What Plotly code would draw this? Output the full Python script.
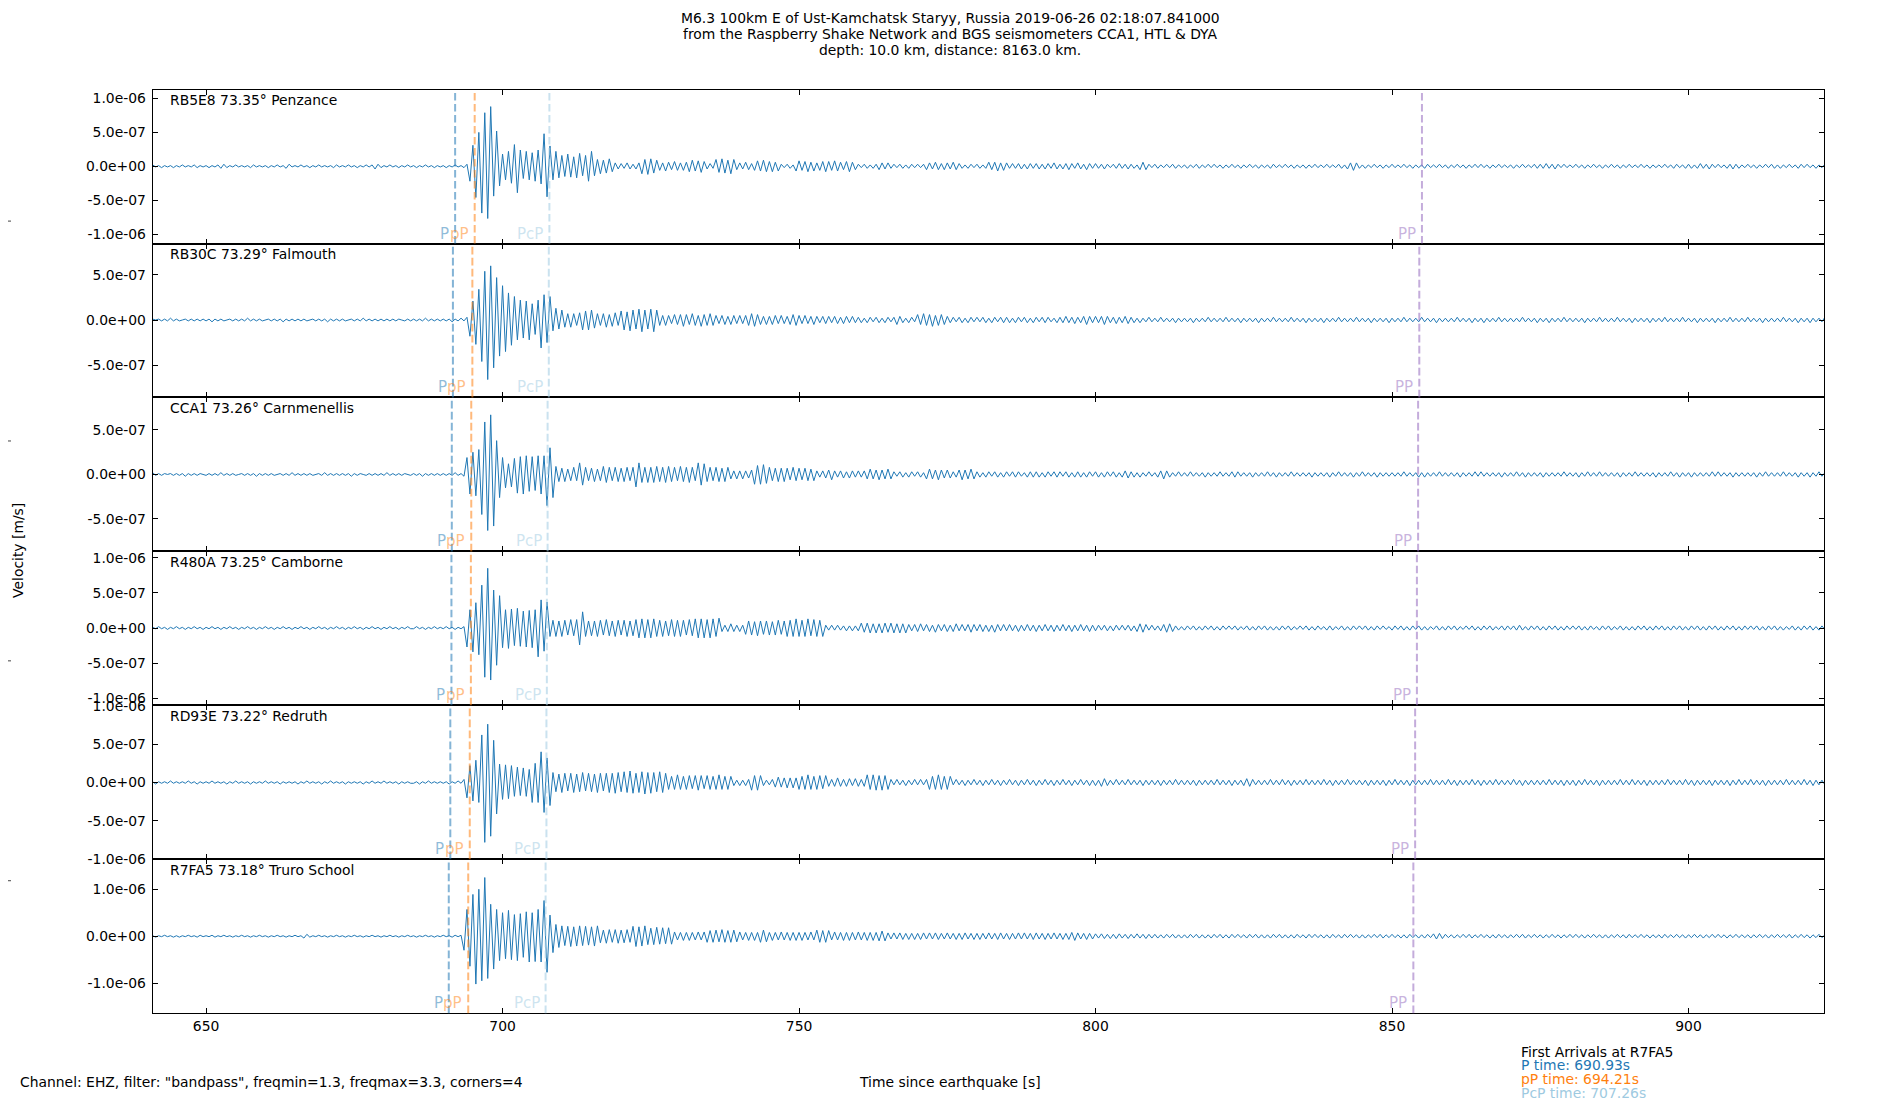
import numpy as np
import plotly.graph_objects as go

FONT = "DejaVu Sans"
FS = 13.9

title_lines = [
    "M6.3 100km E of Ust-Kamchatsk Staryy, Russia 2019-06-26 02:18:07.841000",
    "from the Raspberry Shake Network and BGS seismometers CCA1, HTL & DYA",
    "depth: 10.0 km, distance: 8163.0 km.",
]
stations = ["RB5E8", "RB30C", "CCA1", "R480A", "RD93E", "R7FA5"]
distances = [73.35, 73.29, 73.26, 73.25, 73.22, 73.18]
places = ["Penzance", "Falmouth", "Carnmenellis", "Camborne", "Redruth", "Truro School"]

phase_names = ["P", "pP", "PcP", "PP"]
phase_rgb = ["31,119,180", "255,127,14", "158,202,225", "148,103,189"]
P_times = [692.0, 691.63, 691.44, 691.38, 691.19, 690.93]
pP_times = [695.3, 694.91, 694.72, 694.66, 694.47, 694.21]
PcP_times = [707.9, 707.8, 707.6, 707.47, 707.4, 707.26]
PP_times = [855.05, 854.6, 854.4, 854.2, 853.9, 853.6]

y_limits = [(-1.14e-6, 1.13e-6), (-0.859e-6, 0.847e-6), (-0.865e-6, 0.865e-6),
            (-1.10e-6, 1.09e-6), (-1.0e-6, 1.006e-6), (-1.64e-6, 1.64e-6)]
y_ticks = [[-1e-6, -5e-7, 0, 5e-7, 1e-6], [-5e-7, 0, 5e-7], [-5e-7, 0, 5e-7],
           [-1e-6, -5e-7, 0, 5e-7, 1e-6], [-1e-6, -5e-7, 0, 5e-7, 1e-6], [-1e-6, 0, 1e-6]]
x_ticks = [650, 700, 750, 800, 850, 900]

# velocity traces in units of 1e-8 m/s, one sample every 0.5 s
# pre: from 640 s, main: from 690 s, post: from 800 s
rb5e8_pre = [
    1,-1,2,-1,1,-2,1,-1,1,-2, 1,-1,2,-1,1,-1,2,-2,1,-1, 1,-2,1,-1,2,-3,3,-2,1,-1,
    2,-1,1,-1,1,-2,2,-1,1,-1, 1,-2,1,-1,2,-1,1,-3,3,-1, 1,-1,2,-1,1,-2,1,-1,2,-1,
    1,-1,1,-2,2,-1,1,-1,2,-1, 1,-2,1,-1,2,-1,2,-4,3,-2, 1,-1,2,-1,1,-2,1,-1,2,-1,
    1,-2,1,-1,2,-1,1,-2,1,-1]
rb5e8_main = [
    1,-2,1,-1,2,-1,1,-2,3,-22, 31,-46,50,-69,79,-77,88,-44,52,-29,
    18,-20,22,-25,32,-39,24,-18,22,-20, 20,-22,24,-26,48,-45,30,-20,22,-17,
    16,-15,18,-16,14,-17,19,-14,16,-22, 22,-14,10,-11,9,-10,11,-8,5,-4,
    4,-3,5,-4,3,-4,5,-11,10,-12, 11,-10,9,-6,5,-7,6,-5,7,-6,
    5,-6,6,-8,9,-7,8,-9,7,-4, 4,-3,10,-9,11,-10,9,-11,10,-5,
    5,-4,6,-5,4,-6,8,-7,9,-8, 7,-8,6,-7,3,-2,3,-3,2,-7,
    8,-6,7,-8,6,-7,5,-6,7,-8, 7,-6,8,-7,6,-5,7,-8,6,-5,
    3,-2,3,-3,2,-3,3,-5,5,-4, 5,-3,3,-2,3,-3,2,-3,3,-2,
    3,-2,3,-5,5,-4,6,-5,4,-5, 5,-4,6,-5,4,-3,2,-3,3,-2,
    3,-3,2,-3,6,-5,6,-7,5,-6, 5,-3,4,-3,4,-4,3,-4,4,-3,
    4,-4,3,-4,4,-3,5,-4,3,-4, 4,-5,4,-3,5,-4,3,-5,4,-3]
rb5e8_post = [
    4,-3,3,-4,3,-2,3,-3,4,-3, 3,-4,3,-3,2,-5,6,-5,3,-2, 3,-3,2,-2,3,-2,3,-3,2,-2,
    2,-3,2,-2,3,-3,2,-2,3,-2, 3,-2,2,-3,2,-2,3,-2,2,-3, 2,-2,3,-2,2,-3,2,-2,2,-3,
    3,-2,2,-2,3,-2,2,-3,2,-2, 2,-3,2,-2,3,-2,2,-2,3,-2, 2,-2,3,-3,2,-4,5,-6,5,-3,
    2,-3,2,-2,3,-2,2,-3,2,-2, 3,-2,2,-2,3,-2,2,-3,2,-2, 2,-3,3,-2,2,-2,3,-2,2,-3,
    2,-2,3,-2,2,-3,2,-2,3,-2, 3,-2,2,-3,2,-2,3,-2,2,-2, 2,-3,2,-2,3,-2,2,-2,3,-3,
    3,-3,4,-3,3,-4,3,-2,3,-2, 2,-2,3,-2,2,-3,2,-2,3,-2, 2,-3,2,-2,3,-2,2,-3,2,-2,
    3,-2,2,-2,3,-2,2,-3,2,-2, 2,-2,3,-2,2,-3,3,-2,2,-3, 3,-3,2,-3,4,-3,3,-4,3,-2,
    3,-2,2,-3,3,-4,3,-3,2,-2, 3,-2,2,-3,2,-2,3,-2,3,-3, 2,-3,2,-2,3,-2,2,-3,3,-2,
    3,-2,2,-3,2,-2,3,-2,2,-3]

rb30c_pre = [
    1,-1,1,0,1,-1,1,-1,2,-1, 1,-1,0,1,-1,1,-1,1,-1,1, -1,1,-2,1,-1,1,-1,0,1,-1,
    1,-1,1,-1,2,-1,1,-1,1,-1, 0,1,-1,1,-1,1,-2,1,-1,1, -1,1,-1,1,-1,0,1,-1,1,-1,
    1,-2,1,-1,1,-1,1,-1,0,1, -1,1,-1,2,-1,1,-1,1,-1,1, -1,1,-1,1,-1,1,0,-1,1,-1,
    1,-1,1,-1,2,-1,1,-1,1,-1]
rb30c_main = [
    1,-1,1,-2,1,-1,2,-1,3,-18, 21,-27,34,-46,54,-66,60,-53,47,-40,
    38,-35,30,-28,26,-22,22,-20,21,-22, 18,-16,22,-31,28,-25,26,-12,13,-10,
    11,-8,7,-8,7,-6,8,-11,10,-11, 11,-9,7,-6,7,-8,6,-7,8,-6,
    10,-11,9,-12,11,-10,12,-13,11,-10, 12,-13,11,-6,5,-6,5,-4,6,-5,
    6,-7,6,-5,7,-6,5,-7,6,-6, 7,-6,5,-4,5,-5,4,-5,5,-4,
    5,-4,5,-6,7,-7,6,-5,4,-5, 4,-5,5,-4,5,-4,4,-5,6,-6,
    5,-4,5,-4,4,-5,4,-3,4,-4, 4,-3,4,-4,3,-4,4,-3,4,-3,
    3,-3,2,-3,3,-2,3,-3,2,-3, 3,-2,3,-5,4,-3,2,-3,3,-2,
    6,-5,7,-6,6,-7,5,-6,6,-5, 4,-3,3,-2,3,-3,2,-3,3,-2,
    3,-2,3,-3,2,-3,3,-2,3,-3, 3,-3,2,-3,3,-2,3,-3,2,-3,
    3,-2,3,-3,3,-2,2,-3,3,-3, 4,-3,3,-4,3,-3,4,-5,4,-3]
rb30c_post = [
    4,-3,4,-5,4,-3,3,-4,3,-3, 4,-4,3,-3,2,-3,2,-2,3,-2, 2,-2,3,-2,2,-2,2,-3,2,-2,
    2,-2,2,-3,2,-2,2,-2,3,-2, 2,-2,2,-2,3,-2,2,-2,2,-3, 2,-2,2,-2,2,-3,2,-2,2,-2,
    3,-2,2,-2,2,-2,3,-2,2,-2, 2,-3,2,-2,2,-2,2,-3,2,-2, 2,-2,3,-2,2,-2,2,-2,3,-2,
    2,-2,2,-3,2,-2,2,-2,2,-3, 2,-2,2,-2,3,-2,2,-2,2,-2, 3,-2,2,-2,2,-3,2,-2,2,-2,
    2,-2,3,-2,2,-2,2,-3,2,-2, 2,-3,2,-2,2,-2,3,-2,2,-2, 2,-2,2,-2,3,-2,2,-2,2,-3,
    2,-2,2,-3,2,-2,2,-2,3,-2, 2,-2,2,-2,2,-3,2,-2,2,-2, 3,-2,2,-2,2,-2,3,-2,2,-2,
    2,-3,2,-2,2,-2,2,-3,2,-2, 2,-2,3,-2,2,-2,2,-2,3,-2, 2,-2,2,-3,2,-2,2,-2,2,-3,
    2,-2,2,-2,3,-2,2,-2,2,-2, 3,-2,2,-2,2,-3,2,-2,2,-2, 2,-2,3,-2,2,-2,2,-3,2,-2,
    2,-3,2,-2,2,-2,3,-2,2,-2]

cca1_pre = [
    1,-1,2,-1,1,-1,1,0,1,-1, 1,-1,1,-2,1,-1,1,-1,1,0, -1,1,-1,1,-1,2,-1,1,-1,1,
    -1,0,1,-1,1,-1,1,-2,1,-1, 1,-1,1,-1,0,1,-1,1,-1,2, -1,1,-1,1,-1,1,-1,0,1,-1,
    2,-1,1,-1,1,-1,1,-1,1,-2, 1,-1,1,0,-1,1,-1,1,-1,1, -1,2,-1,1,-1,1,-1,1,0,-1,
    1,-1,1,-2,1,-1,1,-1,1,-1]
cca1_main = [
    1,-1,1,-1,2,-1,1,-2,19,-22, 25,-24,28,-45,59,-63,67,-58,38,-26,
    19,-15,12,-14,18,-21,20,-22,21,-19, 20,-18,21,-22,21,-35,30,-26,9,-8,
    7,-8,6,-7,8,-7,13,-12,8,-7, 7,-8,6,-7,9,-9,8,-7,8,-8,
    7,-8,8,-7,8,-14,13,-9,8,-9, 8,-9,9,-8,8,-9,9,-8,8,-7,
    9,-8,8,-9,8,-7,13,-12,12,-8, 8,-7,8,-8,7,-8,8,-5,4,-5,
    4,-5,4,-4,5,-11,10,-11,11,-10, 8,-7,7,-8,7,-8,7,-6,8,-7,
    7,-6,7,-7,6,-7,4,-3,4,-4, 5,-6,4,-3,4,-4,3,-4,4,-3,
    4,-3,4,-5,6,-5,5,-6,5,-5, 6,-5,3,-2,3,-3,2,-3,3,-2,
    3,-3,2,-5,6,-5,5,-6,5,-4, 5,-4,3,-3,5,-6,5,-5,6,-5,
    3,-3,2,-3,3,-2,3,-3,2,-3, 3,-2,3,-3,3,-2,2,-3,3,-3,
    3,-3,2,-3,3,-2,3,-3,3,-2, 3,-3,2,-3,3,-3,2,-3,3,-2]
cca1_post = [
    3,-3,2,-3,3,-2,3,-3,2,-3, 4,-4,3,-3,2,-3,2,-2,3,-2, 2,-3,4,-5,4,-3,2,-2,3,-2,
    2,-2,3,-2,2,-2,2,-3,2,-2, 2,-2,3,-2,2,-2,3,-3,3,-2, 2,-2,2,-3,2,-2,2,-2,3,-2,
    2,-3,2,-2,2,-2,3,-2,2,-2, 2,-2,2,-3,2,-2,2,-2,2,-3, 2,-2,3,-2,2,-2,2,-3,2,-2,
    3,-2,2,-2,2,-3,2,-2,2,-2, 2,-2,2,-2,3,-2,2,-2,2,-3, 2,-3,2,-2,2,-2,3,-2,2,-2,
    2,-2,2,-3,2,-2,2,-2,3,-2, 3,-2,2,-2,2,-2,2,-3,2,-2, 2,-2,3,-2,2,-3,2,-2,2,-2,
    2,-3,2,-2,2,-2,2,-2,3,-2, 2,-2,2,-3,2,-2,3,-2,2,-2, 3,-2,2,-2,2,-2,2,-3,2,-2,
    2,-2,3,-2,2,-2,2,-2,2,-3, 2,-2,2,-2,3,-2,2,-3,2,-2, 2,-3,2,-2,2,-2,2,-2,3,-2,
    3,-2,2,-2,2,-3,2,-2,2,-2, 2,-2,2,-3,2,-2,3,-2,2,-2, 2,-2,3,-2,2,-2,2,-3,2,-2,
    2,-3,2,-2,3,-2,2,-2,2,-2]

r480a_pre = [
    1,-2,1,-1,2,-1,1,-2,1,-1, 2,-1,1,-2,1,-1,2,-1,1,-2, 1,-1,2,-1,1,-2,1,-1,2,-1,
    1,-2,1,-1,2,-1,1,-2,1,-1, 2,-1,1,-2,1,-1,2,-1,1,-2, 1,-1,2,-1,1,-2,1,-1,2,-1,
    1,-2,1,-1,2,-1,1,-2,1,-1, 2,-1,1,-2,1,-1,2,-1,1,-2, 1,-1,2,-1,1,-2,1,-1,2,-1,
    -1,2,-1,1,-2,1,-1,2,-1,1]
r480a_main = [
    -1,2,-1,1,-2,1,-1,2,-27,26, -34,36,-38,61,-70,85,-74,54,-53,46,
    -28,26,-29,27,-25,28,-26,24,-27,25, -28,26,-41,40,-33,37,-12,11,-12,10,
    -12,11,-10,12,-11,12,-24,23,-12,10, -11,10,-12,11,-10,12,-11,10,-12,11,
    -10,11,-12,10,-11,12,-14,13,-14,12, -14,13,-12,11,-12,10,-11,12,-12,11,
    -12,11,-10,12,-11,13,-14,13,-14,12, -14,13,-12,14,-5,4,-5,6,-5,4,
    -5,4,-9,10,-10,9,-11,10,-9,10, -10,9,-10,11,-9,10,-12,11,-12,13,
    -12,11,-12,13,-11,12,-12,11,-12,4, -3,4,-3,4,-3,3,-4,3,-4,3,
    -4,7,-6,7,-7,6,-7,6,-7,7, -6,7,-7,6,-7,6,-7,5,-4,5,
    -5,6,-4,5,-5,4,-6,5,-4,5, -5,4,-5,6,-4,5,-4,5,-6,5,
    -4,5,-5,4,-5,4,-6,5,-4,5, -4,5,-4,4,-5,4,-4,5,-4,4,
    -5,4,-4,5,-4,4,-5,4,-4,5, -4,4,-5,4,-4,5,-4,4,-5,4]
r480a_post = [
    -4,4,-3,4,-4,3,-4,4,-3,4, -3,4,-4,3,-5,6,-6,5,-3,4, -3,3,-4,5,-6,6,-5,3,-3,2,
    -3,3,-2,3,-3,2,-3,3,-2,3, -3,2,-3,3,-2,3,-2,3,-3,2, -2,3,-3,2,-3,3,-2,3,-3,2,
    -3,2,-3,3,-2,3,-3,2,-2,3, -2,3,-3,2,-3,3,-2,2,-3,3, -3,2,-2,3,-3,2,-3,3,-2,3,
    -2,3,-3,2,-3,3,-2,3,-2,2, -3,3,-2,3,-3,2,-3,3,-2,3, -3,2,-3,2,-2,3,-3,2,-3,3,
    -2,3,-3,2,-2,3,-2,3,-3,2, -3,3,-2,3,-3,2,-2,3,-3,3, -2,3,-3,4,-3,2,-3,3,-2,3,
    -3,2,-3,3,-2,3,-3,2,-3,3, -2,3,-2,3,-3,2,-3,3,-2,2, -3,3,-2,3,-3,2,-2,3,-3,2,
    -3,2,-3,3,-2,3,-3,2,-3,3, -2,3,-3,2,-3,3,-2,3,-3,2, -3,3,-2,3,-3,2,-3,3,-2,3,
    -3,2,-3,3,-2,3,-3,2,-3,3, -2,3,-2,3,-3,2,-3,3,-2,3, -3,2,-3,2,-2,3,-3,2,-3,3,
    -2,3,-3,2,-3,3,-2,3,-3,2]

rd93e_pre = [
    1,-1,1,-2,1,-1,1,-1,2,-1, 1,-1,1,-1,2,-1,1,-2,1,-1, 1,-1,2,-1,1,-1,1,-2,1,-1,
    2,-1,1,-1,1,-2,1,-1,1,-1, 2,-1,1,-1,1,-2,1,-1,1,-1, 1,-2,1,-1,2,-1,1,-1,1,-2,
    1,-1,2,-1,1,-1,1,-2,1,-1, 1,-1,1,-2,1,-1,2,-1,1,-1, 2,-1,1,-1,1,-2,1,-1,1,-1,
    -1,1,-2,1,-1,2,-1,1,-1,1]
rd93e_main = [
    -1,1,-2,1,-1,2,-1,4,-20,22, -24,29,-26,62,-78,76,-70,55,-41,24,
    -22,23,-21,22,-18,20,-17,19,-18,17, -26,25,-26,40,-39,32,-30,13,-12,11,
    -13,12,-11,12,-13,11,-12,13,-11,12, -12,11,-13,12,-11,12,-13,12,-14,13,
    -12,14,-13,15,-14,12,-13,14,-15,13, -14,13,-12,14,-13,12,-9,8,-9,10,
    -9,8,-9,9,-8,9,-10,9,-8,9, -9,8,-9,10,-9,8,-9,8,-4,3,
    -4,3,-4,4,-10,9,-10,9,-4,3, -3,4,-6,7,-6,6,-7,6,-7,6,
    -9,8,-9,10,-9,8,-9,9,-8,9, -5,4,-5,6,-5,4,-5,5,-4,5,
    -5,4,-5,10,-9,10,-10,9,-10,9, -9,4,-3,4,-3,3,-4,3,-3,4,
    -3,4,-3,4,-9,8,-9,10,-9,8, -9,8,-3,4,-3,3,-4,3,-3,4,
    -3,3,-4,3,-3,4,-3,3,-4,3, -3,4,-3,3,-4,3,-3,4,-3,3,
    -4,3,-3,4,-3,3,-4,3,-3,4, -3,3,-4,3,-3,4,-3,3,-4,3]
rd93e_post = [
    -4,3,-5,5,-4,3,-3,4,-3,3, -3,4,-3,3,-3,3,-4,3,-3,3, -3,3,-4,3,-3,3,-3,4,-3,3,
    -3,3,-3,3,-4,3,-3,3,-3,3, -3,4,-3,3,-3,3,-4,3,-3,3, -4,5,-5,4,-3,3,-3,3,-3,4,
    -3,3,-3,4,-3,3,-4,3,-3,3, -3,4,-3,3,-3,3,-3,4,-3,3, -4,3,-3,3,-3,4,-3,3,-3,3,
    -3,3,-4,3,-3,3,-3,3,-4,3, -3,4,-3,3,-3,3,-4,3,-3,3, -3,3,-3,4,-3,3,-3,3,-3,4,
    -3,3,-4,3,-3,3,-3,4,-3,3, -4,3,-3,3,-3,4,-3,3,-3,3, -3,4,-3,3,-4,3,-3,3,-3,3,
    -3,3,-3,4,-3,3,-3,3,-4,3, -3,3,-4,3,-3,4,-3,3,-3,3, -4,3,-3,3,-3,3,-3,4,-3,3,
    -3,4,-3,3,-3,3,-4,3,-3,3, -3,3,-3,4,-3,3,-3,3,-3,4, -3,3,-4,3,-3,3,-3,3,-4,3,
    -3,3,-3,3,-4,3,-3,4,-3,3, -3,4,-3,3,-3,3,-4,3,-3,3, -3,3,-3,4,-3,3,-3,3,-3,4,
    -3,3,-4,3,-3,3,-3,4,-3,3]

r7fa5_pre = [
    2,-1,1,-2,1,-1,2,-1,1,-2, 1,-2,1,-1,2,-1,1,-2,2,-1, 1,-1,2,-2,1,-1,2,-1,1,-2,
    1,-1,2,-1,1,-2,1,-1,2,-1, 1,-2,1,-1,2,-1,1,-2,1,-1, 2,-1,1,-4,4,-2,1,-1,2,-1,
    1,-2,1,-1,2,-1,1,-2,1,-1, 2,-1,1,-2,1,-1,2,-1,1,-2, 1,-1,2,-1,1,-2,1,-1,2,-1,
    1,-2,1,-1,2,-1,1,-2,1,-1]
r7fa5_main = [
    2,-1,1,-2,2,-1,2,-30,57,-64, 89,-102,100,-95,125,-90,68,-70,57,-52,
    50,-48,55,-50,46,-52,48,-45,52,-55, 50,-54,57,-55,76,-77,45,-35,25,-24,
    22,-20,21,-22,20,-21,22,-20,21,-19, 20,-21,22,-14,13,-15,14,-13,14,-15,
    13,-14,14,-13,21,-22,20,-21,22,-18, 17,-18,19,-17,18,-16,18,-17,9,-8,
    8,-9,8,-9,8,-8,9,-8,9,-13, 12,-13,13,-12,14,-13,12,-13,13,-12,
    9,-8,8,-9,8,-9,8,-13,13,-12, 8,-9,8,-8,9,-8,8,-9,8,-9,
    8,-9,8,-8,9,-8,13,-13,12,-13, 12,-8,9,-8,8,-9,8,-9,8,-8,
    9,-8,8,-9,8,-9,8,-10,11,-10, 7,-6,7,-6,7,-7,6,-7,6,-7,
    6,-7,7,-6,7,-6,7,-7,6,-6, 7,-6,6,-7,6,-7,7,-6,6,-7,
    6,-7,6,-6,7,-6,6,-7,7,-6, 6,-7,6,-6,7,-6,7,-6,6,-7,
    7,-6,6,-7,6,-6,7,-6,6,-7, 6,-7,8,-9,7,-6,6,-7,6,-6]
r7fa5_post = [
    5,-4,5,-5,4,-5,4,-5,5,-4, 4,-5,4,-4,5,-4,4,-5,4,-4, 4,-4,3,-4,4,-3,4,-4,3,-4,
    3,-4,4,-3,4,-4,3,-4,3,-4, 4,-3,4,-4,3,-4,4,-3,4,-3, 3,-4,4,-3,4,-4,3,-4,3,-4,
    4,-3,4,-4,3,-4,3,-4,4,-3, 3,-4,4,-3,4,-3,3,-4,3,-4, 4,-3,3,-4,4,-3,4,-3,3,-4,
    3,-4,3,-3,4,-3,4,-4,3,-3, 4,-3,3,-4,3,-4,4,-3,3,-4, 3,-4,4,-3,5,-6,6,-5,4,-3,
    3,-4,3,-3,4,-3,4,-4,3,-3, 4,-3,3,-4,3,-4,4,-3,3,-4, 3,-3,4,-3,4,-4,3,-3,4,-3,
    3,-4,3,-3,4,-3,3,-4,3,-3, 4,-3,4,-3,3,-4,3,-3,4,-3, 3,-4,3,-4,3,-3,4,-3,3,-4,
    4,-3,3,-3,4,-3,3,-4,3,-3, 3,-4,4,-3,3,-3,4,-3,3,-4, 3,-3,4,-3,3,-4,3,-3,4,-3,
    4,-3,3,-4,3,-3,4,-3,3,-3, 3,-4,3,-3,4,-3,3,-4,3,-3, 4,-3,3,-3,4,-4,3,-3,4,-3,
    3,-4,3,-3,4,-3,3,-3,4,-3]

traces = [
    (rb5e8_pre, rb5e8_main, rb5e8_post),
    (rb30c_pre, rb30c_main, rb30c_post),
    (cca1_pre, cca1_main, cca1_post),
    (r480a_pre, r480a_main, r480a_post),
    (rd93e_pre, rd93e_main, rd93e_post),
    (r7fa5_pre, r7fa5_main, r7fa5_post),
]

# page body has an 8px margin; the capture also squeezes the page a little vertically
OFF = 8
W, H = 1900 - 2 * OFF, 1100
SQUEEZE, SHIFT = 0.986, 15


def px(x):
    return (x - OFF) / W


def py(y):
    return 1 - (y / SQUEEZE - SHIFT) / H


left, right = 152.7, 1824.0
top, panel_h = 88.5, 154.0

fig = go.Figure()
shapes = []
annotations = []

for i, (pre, main, post) in enumerate(traces):
    n = "" if i == 0 else str(i + 1)
    t = np.concatenate([640 + 0.5 * np.arange(len(pre)),
                        690 + 0.5 * np.arange(len(main)),
                        800 + 0.5 * np.arange(len(post))])
    v = np.array(pre + main + post, dtype=float) * 1e-8
    fig.add_trace(go.Scatter(x=t, y=v, mode="lines", xaxis="x" + n, yaxis="y" + n,
                             line=dict(color="#1f77b4", width=1), showlegend=False,
                             hoverinfo="skip"))

    y_top = py(top + i * panel_h)
    y_bot = py(top + (i + 1) * panel_h)
    axis_style = dict(showline=True, linecolor="black", linewidth=1, mirror="allticks",
                      ticks="inside", ticklen=5, tickwidth=1, tickcolor="black",
                      showgrid=False, zeroline=False,
                      tickfont=dict(family=FONT, size=FS, color="black"))
    fig.layout["xaxis" + n] = dict(
        domain=[px(left), px(right)], anchor="y" + n, range=[641, 922.85],
        tickvals=x_ticks, showticklabels=(i == 5), **axis_style)
    fig.layout["yaxis" + n] = dict(
        domain=[y_bot, y_top], anchor="x" + n, range=list(y_limits[i]),
        tickvals=y_ticks[i], ticktext=[f"{v:.1e}" for v in y_ticks[i]],
        ticklabelstandoff=3, **axis_style)

    annotations.append(dict(
        x=px(left + 15), y=y_top, xref="paper", yref="paper", xanchor="left",
        yanchor="top", yshift=-0.5, showarrow=False,
        text=f"{stations[i]} {distances[i]:.2f}° {places[i]}",
        font=dict(family=FONT, size=FS, color="black")))

    for name, rgb, tt in zip(phase_names, phase_rgb,
                             [P_times[i], pP_times[i], PcP_times[i], PP_times[i]]):
        shapes.append(dict(type="line", xref="x" + n, yref="y" + n + " domain",
                           x0=tt, x1=tt, y0=0, y1=1,
                           line=dict(color=f"rgba({rgb},0.55)", width=2,
                                     dash="7.7px,3.3px")))
        annotations.append(dict(
            x=tt, y=0, xref="x" + n, yref="y" + n + " domain", xanchor="right",
            yanchor="bottom", xshift=-4, yshift=-1, showarrow=False, text=name,
            font=dict(family=FONT, size=15, color=f"rgba({rgb},0.5)")))

# title
for k, line in enumerate(title_lines):
    annotations.append(dict(x=px(950), y=py(17 + 15.75 * k), xref="paper", yref="paper",
                            xanchor="center", yanchor="middle", showarrow=False, text=line,
                            font=dict(family=FONT, size=FS, color="black")))

annotations.append(dict(x=px(18), y=py(550), xref="paper", yref="paper", textangle=-90,
                        xanchor="center", yanchor="middle", showarrow=False,
                        text="Velocity [m/s]", font=dict(family=FONT, size=FS, color="black")))
annotations.append(dict(x=px(18), y=py(1081), xref="paper", yref="paper",
                        xanchor="left", yanchor="middle", showarrow=False,
                        text='Channel: EHZ, filter: "bandpass", freqmin=1.3, freqmax=3.3, corners=4',
                        font=dict(family=FONT, size=FS, color="black")))
annotations.append(dict(x=px(950), y=py(1081), xref="paper", yref="paper",
                        xanchor="center", yanchor="middle", showarrow=False,
                        text="Time since earthquake [s]",
                        font=dict(family=FONT, size=FS, color="black")))

arrival_lines = [
    ("First Arrivals at R7FA5", "black"),
    (f"P time: {P_times[5]:.2f}s", "#1f77b4"),
    (f"pP time: {pP_times[5]:.2f}s", "#ff7f0e"),
    (f"PcP time: {PcP_times[5]:.2f}s", "#9ecae1"),
]
for k, (txt, col) in enumerate(arrival_lines):
    annotations.append(dict(x=px(1519), y=py(1051 + 13.7 * k), xref="paper",
                            yref="paper", xanchor="left", yanchor="middle", showarrow=False,
                            text=txt, font=dict(family=FONT, size=FS, color=col)))

# ticks of the hidden full-figure axes peeking in at the left edge
for f in [220, 440, 660, 880]:
    shapes.append(dict(type="line", xref="paper", yref="paper", x0=0, x1=3 / W,
                       y0=py(f), y1=py(f), line=dict(color="#444444", width=1)))

fig.update_layout(width=W, height=H, margin=dict(l=0, r=0, t=0, b=0),
                  paper_bgcolor="white", plot_bgcolor="white",
                  shapes=shapes, annotations=annotations, showlegend=False,
                  font=dict(family=FONT, color="black"))

fig.write_html("out.html")
